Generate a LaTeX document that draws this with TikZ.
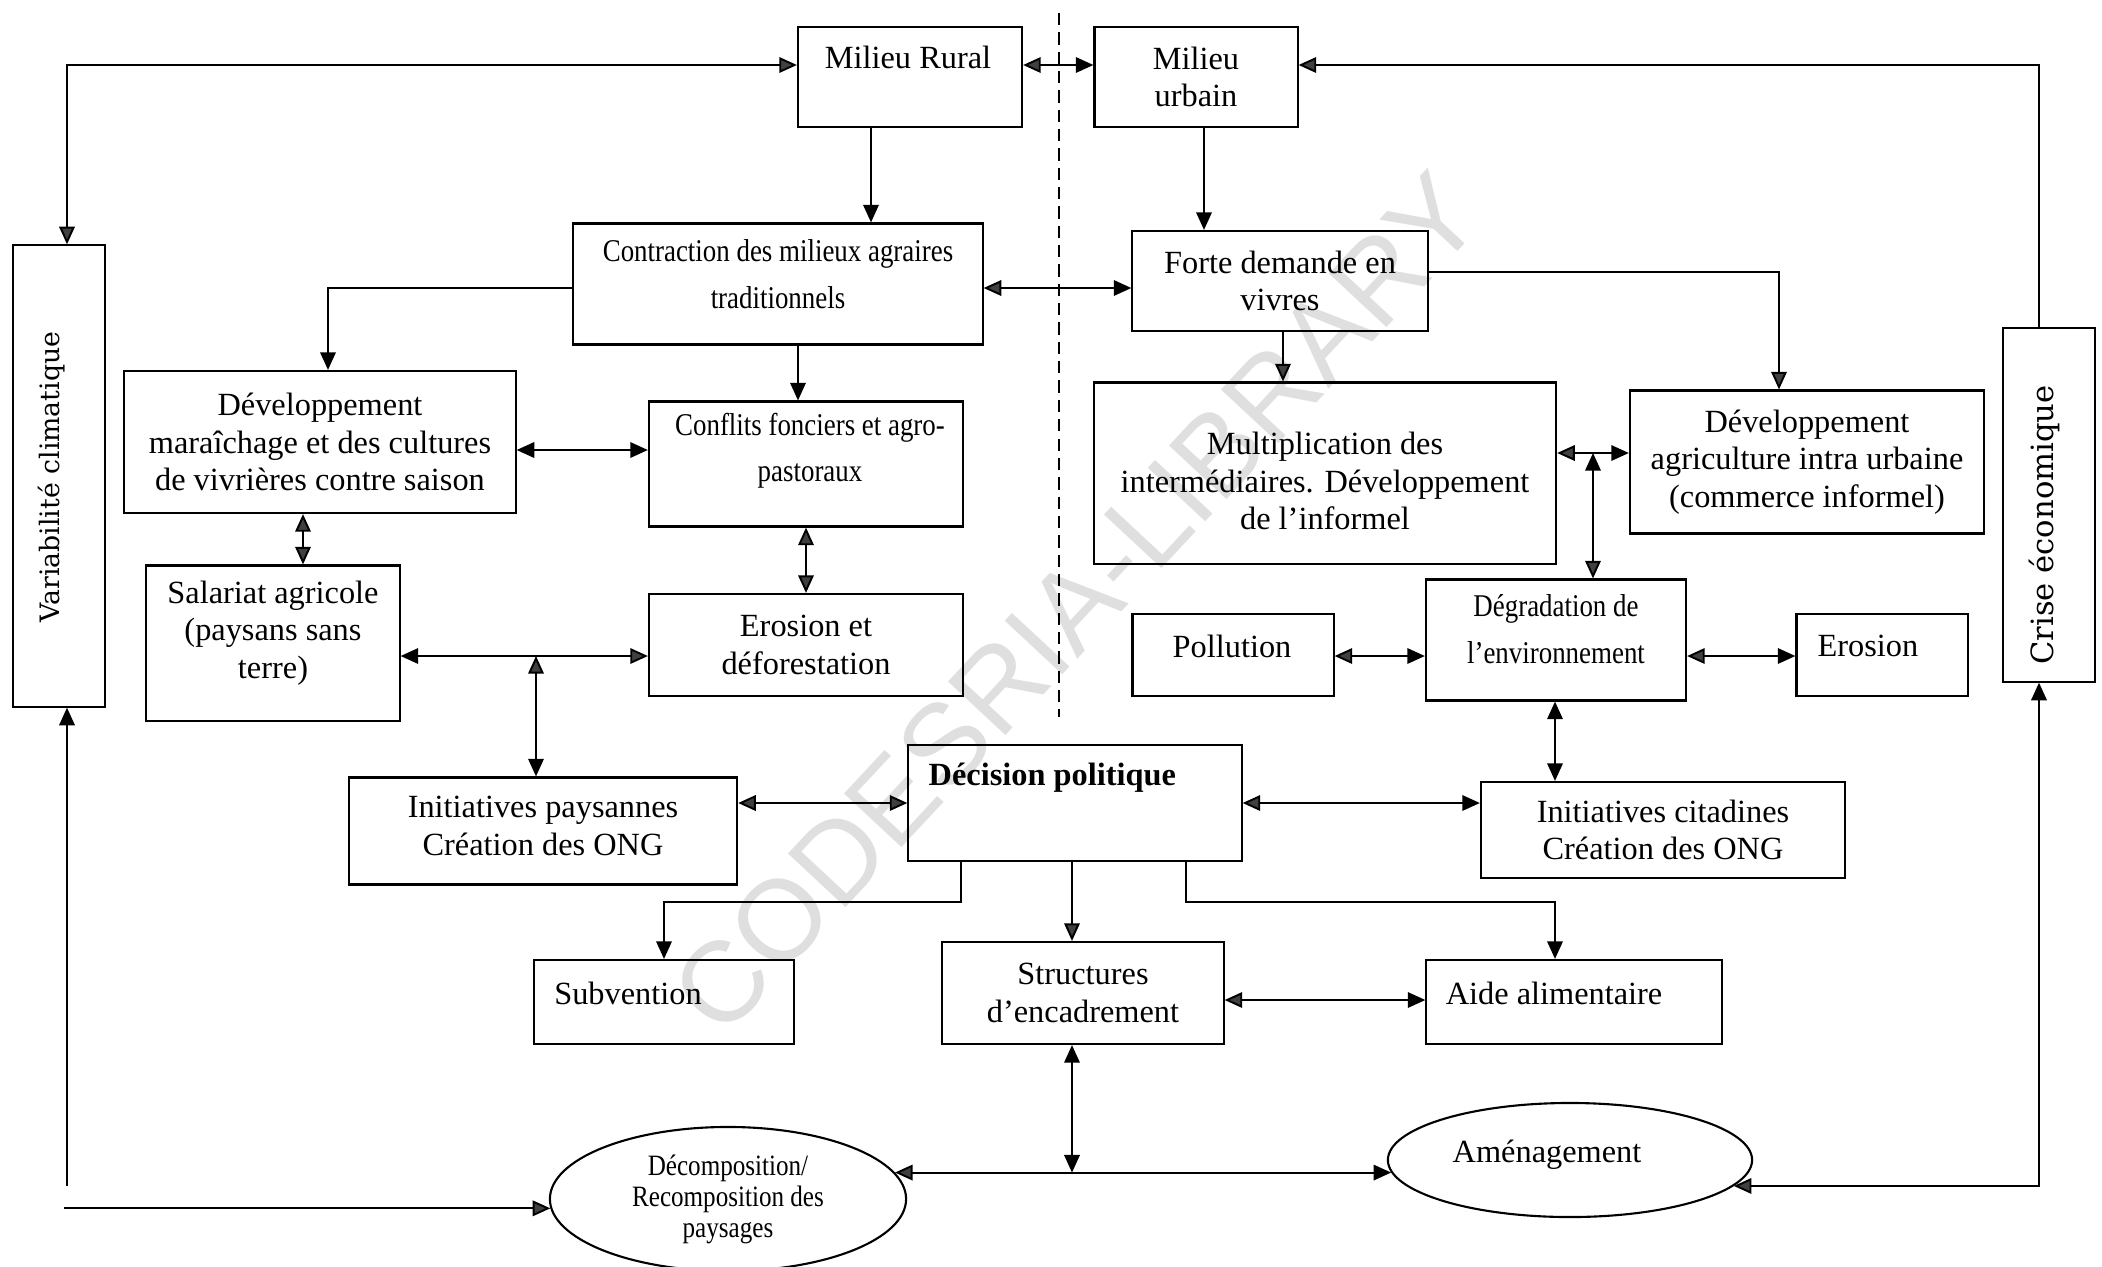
\documentclass[tikz,border=0pt]{standalone}
\usepackage{fontspec}
\setmainfont{Liberation Serif}
\newfontfamily\condserif[FakeStretch=0.85]{Liberation Serif}
\newfontfamily\sideserif{DejaVu Serif}
\newfontfamily\markfamily{Liberation Sans}
\usepackage{tikz}
\usetikzlibrary{arrows.meta, shapes.geometric, calc}

\newcommand\boxfont{\fontsize{9.2}{10.6}\selectfont}
\newcommand\condfont{\condserif\fontsize{9}{13.2}\selectfont}
\newcommand\ovalfont{\condserif\fontsize{8.4}{8.8}\selectfont}

\begin{document}
\begin{tikzpicture}[
    x=0.01cm, y=-0.01cm,
    box/.style={draw,line width=0.6pt,inner sep=0pt,align=center,font=\boxfont},
    oval/.style={draw,ellipse,line width=0.6pt,inner sep=0pt,align=center},
    txt/.style={inner sep=0pt,align=center,font=\boxfont},
    link/.style={line width=0.55pt},
    fillhead/.tip={Triangle[length=5pt,width=4.4pt]},
    openhead/.tip={Triangle[length=5pt,width=4.4pt,fill=black!75]}
  ]
  \useasboundingbox (0,0) rectangle (2102,1266);

  % watermark
  \node[rotate=47,inner sep=0pt,text=gray!25,
    font=\markfamily\fontsize{32.5}{33}\selectfont] (mark) at (1076,603) {CODESRIA-LIBRARY};

  % rural / urban divide
  \coordinate (divtop) at (1059,13);
  \coordinate (divbot) at (1059,717);
  \draw[line width=0.5pt,dash pattern=on 3.5pt off 2pt] (divtop) -- (divbot);

  % side factors
  \node[box,minimum width=0.92cm,minimum height=4.61cm] (clim) at (59,476) {};
  \node[rotate=90,inner sep=0pt,font=\sideserif\fontsize{7.6}{9}\selectfont] (climt) at (52,477) {Variabilité climatique};
  \node[box,minimum width=0.92cm,minimum height=3.53cm] (crise) at (2049,505) {};
  \node[rotate=90,inner sep=0pt,font=\sideserif\fontsize{8.7}{10}\selectfont] (criset) at (2044,525) {Crise économique};

  % top row
  \node[box,minimum width=2.24cm,minimum height=1.00cm] (rural) at (910,77) {};
  \node[txt] (ruralt) at (908,57) {Milieu Rural};
  \node[box,minimum width=2.03cm,minimum height=1.00cm] (urbain) at (1196,77) {Milieu\\urbain};

  % rural side
  \node[box,minimum width=4.09cm,minimum height=1.21cm] (contr) at (778,284) {};
  \node[txt,font=\condfont] (contrt) at (778,274) {Contraction des milieux agraires\\traditionnels};
  \node[box,minimum width=3.91cm,minimum height=1.42cm] (dev) at (320,442)
    {Développement\\maraîchage et des cultures\\de vivrières contre saison};
  \node[box,minimum width=3.14cm,minimum height=1.25cm] (confl) at (806,464) {};
  \node[txt,font=\condfont] (conflt) at (810,451) {Conflits fonciers et agro-\\pastoraux};
  \node[box,minimum width=2.53cm,minimum height=1.55cm] (salar) at (273,643) {};
  \node[txt] (salart) at (273,633) {Salariat agricole\\(paysans sans\\terre)};
  \node[box,minimum width=3.14cm,minimum height=1.02cm] (erod) at (806,645) {Erosion et\\déforestation};
  \node[box,minimum width=3.88cm,minimum height=1.07cm] (inip) at (543,831) {};
  \node[txt] (inipt) at (543,826) {Initiatives paysannes\\Création des ONG};

  % urban side
  \node[box,minimum width=2.95cm,minimum height=1.00cm] (forte) at (1280,281) {Forte demande en\\vivres};
  \node[box,minimum width=4.62cm,minimum height=1.81cm] (multi) at (1325,473) {};
  \node[txt] (multit) at (1325,481) {Multiplication des\\intermédiaires. Développement\\de l’informel};
  \node[box,minimum width=3.54cm,minimum height=1.43cm] (devag) at (1807,462)
    {Développement\\agriculture intra urbaine\\(commerce informel)};
  \node[box,minimum width=2.60cm,minimum height=1.21cm] (degr) at (1556,640) {};
  \node[txt,font=\condfont] (degrt) at (1556,629) {Dégradation de\\l’environnement};
  \node[box,minimum width=2.01cm,minimum height=0.82cm] (pollu) at (1233,655) {};
  \node[txt] (pollut) at (1232,646) {Pollution};
  \node[box,minimum width=1.71cm,minimum height=0.82cm] (erosi) at (1882,655) {};
  \node[txt] (erosit) at (1868,646) {Erosion};
  \node[box,minimum width=3.64cm,minimum height=0.96cm] (inic) at (1663,830) {Initiatives citadines\\Création des ONG};

  % policy level
  \node[box,minimum width=3.33cm,minimum height=1.16cm] (decis) at (1075,803) {};
  \node[txt,anchor=west] (decist) at (928,778) {\textbf{Décision politique}};
  \node[box,minimum width=2.60cm,minimum height=0.84cm] (subv) at (664,1002) {};
  \node[txt] (subvt) at (628,993) {Subvention};
  \node[box,minimum width=2.81cm,minimum height=1.02cm] (struc) at (1083,993) {Structures\\d’encadrement};
  \node[box,minimum width=2.95cm,minimum height=0.84cm] (aide) at (1574,1002) {};
  \node[txt] (aidet) at (1554,993) {Aide alimentaire};

  % outcomes
  \node[oval,minimum width=3.56cm,minimum height=1.44cm,font=\ovalfont] (deco) at (728,1199)
    {Décomposition/\\Recomposition des\\paysages};
  \node[oval,minimum width=3.64cm,minimum height=1.14cm] (amen) at (1570,1160) {};
  \node[txt] (ament) at (1547,1155) {Aménagement};

  % links along the top
  \draw[link,openhead-openhead] (clim.north -| 67,0) |- (rural.west |- 0,65);
  \draw[link,openhead-fillhead] (rural.east |- 0,65) -- (urbain.west |- 0,65);
  \draw[link,-openhead] (crise.north -| 2039,0) |- (urbain.east |- 0,65);
  \draw[link,-fillhead] (rural.south -| 871,0) -- (contr.north -| 871,0);
  \draw[link,-fillhead] (urbain.south -| 1204,0) -- (forte.north -| 1204,0);
  \draw[link,openhead-fillhead] (contr.east |- 0,288) -- (forte.west |- 0,288);

  % rural links
  \draw[link,-fillhead] (contr.west |- 0,288) -| (dev.north -| 328,0);
  \draw[link,-fillhead] (contr.south -| 798,0) -- (confl.north -| 798,0);
  \draw[link,fillhead-fillhead] (dev.east |- 0,450) -- (confl.west |- 0,450);
  \draw[link,openhead-openhead] (dev.south -| 303,0) -- (salar.north -| 303,0);
  \draw[link,openhead-openhead] (confl.south) -- (erod.north);
  \draw[link,fillhead-openhead] (salar.east |- 0,656) -- (erod.west |- 0,656);
  \coordinate (fork) at (536,656);
  \draw[link,openhead-fillhead] (fork) -- (inip.north -| fork);
  \draw[link,openhead-openhead] (inip.east |- 0,803) -- (decis.west |- 0,803);

  % urban links
  \draw[link,-openhead] (forte.south -| 1283,0) -- (multi.north -| 1283,0);
  \draw[link,-openhead] (forte.east |- 0,272) -| (devag.north -| 1779,0);
  \draw[link,openhead-fillhead] (multi.east |- 0,453) -- (devag.west |- 0,453);
  \coordinate (split) at (1593,453);
  \draw[link,fillhead-openhead] (split) -- (degr.north -| split);
  \draw[link,openhead-fillhead] (pollu.east |- 0,656) -- (degr.west |- 0,656);
  \draw[link,openhead-fillhead] (degr.east |- 0,656) -- (erosi.west |- 0,656);
  \draw[link,fillhead-fillhead] (degr.south -| 1555,0) -- (inic.north -| 1555,0);
  \draw[link,openhead-fillhead] (decis.east |- 0,803) -- (inic.west |- 0,803);

  % policy links
  \draw[link,-fillhead] (decis.south -| 961,0) -- ++(0,40) -| (subv.north);
  \draw[link,-openhead] (decis.south -| 1072,0) -- (struc.north -| 1072,0);
  \draw[link,-fillhead] (decis.south -| 1186,0) -- ++(0,40) -| (aide.north -| 1555,0);
  \draw[link,openhead-fillhead] (struc.east |- 0,1000) -- (aide.west |- 0,1000);
  \coordinate (hub) at (deco.9 -| 1072,0);
  \draw[link,fillhead-fillhead] (struc.south -| hub) -- (hub);
  \draw[link,openhead-fillhead] (deco.9) -- (deco.9 -| amen.184);

  % feedback to the side factors
  \coordinate (climfoot) at (67,1186);
  \draw[link,-fillhead] (climfoot) -- (clim.south -| climfoot);
  \coordinate (decofeed) at (64,1206);
  \draw[link,-openhead] (deco.183 -| decofeed) -- (deco.183);
  \draw[link,fillhead-openhead] (crise.south -| 2039,0) |- (amen.351);
\end{tikzpicture}
\end{document}
